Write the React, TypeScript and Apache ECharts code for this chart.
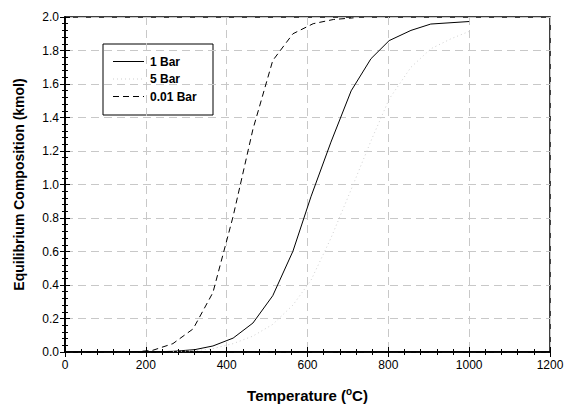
import React, { useEffect, useRef } from "react";
import * as echarts from "echarts";

const xTicks = [0, 200, 400, 600, 800, 1000, 1200];
const yTicks = [0, 0.2, 0.4, 0.6, 0.8, 1.0, 1.2, 1.4, 1.6, 1.8, 2.0];

const seriesNames = ["1 Bar", "5 Bar", "0.01 Bar"];

const bar1T = [217, 267, 321, 366, 416, 465, 514, 564, 609, 658, 708, 757, 802, 856, 905, 1000];
const bar1V = [0.001, 0.004, 0.014, 0.036, 0.083, 0.173, 0.336, 0.602, 0.93, 1.253, 1.559, 1.751, 1.859, 1.92, 1.958, 1.973];

const bar5T = [267, 321, 366, 416, 465, 514, 564, 609, 658, 708, 757, 802, 856, 905, 955, 1000];
const bar5V = [0.002, 0.008, 0.02, 0.05, 0.095, 0.165, 0.28, 0.43, 0.68, 0.97, 1.26, 1.51, 1.7, 1.81, 1.87, 1.914];

const bar001T = [167, 217, 267, 317, 366, 416, 465, 514, 564, 614, 664, 714];
const bar001V = [0.0, 0.01, 0.05, 0.138, 0.355, 0.81, 1.33, 1.74, 1.9, 1.96, 1.985, 1.995];

const FONT = "Arial, 'Liberation Sans', sans-serif";

const LINE_STYLES = [
  { color: "#000", width: 1, type: "solid" as any },
  { color: "#cfcfcf", width: 1, type: [1, 3] as any },
  { color: "#000", width: 1, type: [6, 4] as any },
];

export default function App() {
  const ref = useRef<HTMLDivElement>(null);
  useEffect(() => {
    if (!ref.current) return;
    const chart = echarts.init(ref.current, null, { renderer: "svg" });
    const pair = (t: number[], v: number[]) => t.map((x, i) => [x, v[i]]);
    const datasets = [pair(bar1T, bar1V), pair(bar5T, bar5V), pair(bar001T, bar001V)];

    const legendX = 103, legendY = 44, legendW = 110, legendH = 71;
    const rowY = [61.5, 79, 96.5];
    const legendChildren: any[] = [
      {
        type: "rect",
        shape: { x: legendX, y: legendY, width: legendW, height: legendH },
        style: { fill: "#fff", stroke: "#000", lineWidth: 1 },
      },
    ];
    seriesNames.forEach((n, i) => {
      const ls = LINE_STYLES[i];
      legendChildren.push({
        type: "line",
        shape: { x1: 113, y1: rowY[i], x2: 144, y2: rowY[i] },
        style: { stroke: ls.color, lineWidth: 1, lineDash: ls.type === "solid" ? null : ls.type },
      });
      legendChildren.push({
        type: "text",
        x: 150,
        y: rowY[i],
        style: { text: n, fontFamily: FONT, fontSize: 12, fontWeight: "bold", fill: "#000", verticalAlign: "middle", align: "left" },
      });
    });

    const axisCommon = {
      axisLine: { show: true, lineStyle: { color: "#000", width: 1.5 } },
      axisTick: { show: true, inside: true, length: 5, lineStyle: { color: "#000" } },
      minorTick: { show: true, splitNumber: 5, length: 3, lineStyle: { color: "#000" } },
    };

    chart.setOption({
      animation: false,
      backgroundColor: "#fff",
      grid: { left: 65, right: 18, top: 17, bottom: 53, show: true, borderColor: "#000", borderWidth: 1.5, backgroundColor: "transparent" },
      graphic: [{ type: "group", z: 100, children: legendChildren }],
      xAxis: [
        {
          type: "value",
          min: xTicks[0],
          max: xTicks[xTicks.length - 1],
          interval: 200,
          position: "bottom",
          name: "{a|Temperature (}{s|o}{a|C)}",
          nameLocation: "middle",
          nameGap: 34,
          nameTextStyle: {
            rich: {
              a: { fontFamily: FONT, fontSize: 15, fontWeight: "bold", color: "#000" },
              s: { fontFamily: FONT, fontSize: 10, fontWeight: "bold", color: "#000", verticalAlign: "top", padding: [0, 0, 9, 0] },
            },
          },
          ...axisCommon,
          axisLabel: { fontFamily: FONT, fontSize: 12, color: "#000", margin: 7, formatter: (v: number) => String(v) },
          splitLine: { show: true, lineStyle: { color: "#c8c8c8", type: [8, 5], width: 1 } },
        },
        {
          type: "value",
          min: xTicks[0],
          max: xTicks[xTicks.length - 1],
          interval: 200,
          position: "top",
          ...axisCommon,
          axisLabel: { show: false },
          splitLine: { show: false },
        },
      ],
      yAxis: [
        {
          type: "value",
          min: 0,
          max: yTicks[yTicks.length - 1],
          interval: 0.2,
          position: "left",
          name: "Equilibrium Composition (kmol)",
          nameLocation: "middle",
          nameGap: 39,
          nameTextStyle: { fontFamily: FONT, fontSize: 14, fontWeight: "bold", color: "#000" },
          ...axisCommon,
          axisLabel: { fontFamily: FONT, fontSize: 12, color: "#000", margin: 6, formatter: (v: number) => v.toFixed(1) },
          splitLine: { show: true, lineStyle: { color: "#c8c8c8", type: [8, 5], width: 1 } },
        },
        {
          type: "value",
          min: 0,
          max: yTicks[yTicks.length - 1],
          interval: 0.2,
          position: "right",
          ...axisCommon,
          axisLabel: { show: false },
          splitLine: { show: false },
        },
      ],
      series: seriesNames.map((n, i) => ({
        name: n,
        type: "line",
        data: datasets[i],
        showSymbol: false,
        symbol: "none",
        lineStyle: LINE_STYLES[i],
        itemStyle: { color: LINE_STYLES[i].color },
      })),
    });
    return () => chart.dispose();
  }, []);
  return <div ref={ref} style={{ width: 568, height: 408, position: "absolute", left: 0, top: 0 }} />;
}
